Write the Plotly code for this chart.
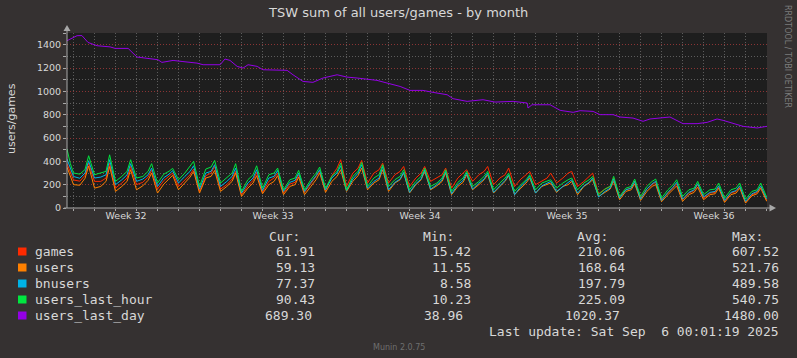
import plotly.graph_objects as go

# ---------------- data ----------------
# time axis in days from the first day line; samples per day at these fractions
day_offsets = [0.0, 0.30, 0.55, 0.72]
lead_t = [-0.31, -0.15]
tail_t = [33.0, 33.02]

games_lead = [380, 310]
games_daily = [
    (240, 230, 280, 385), (228, 228, 257, 385), (170, 214, 257, 356), (200, 220, 265, 322), (162, 235, 270, 300),
    (185, 242, 285, 334), (142, 277, 299, 356), (162, 200, 248, 314), (114, 190, 237, 305), (134, 228, 257, 299),
    (128, 205, 220, 285), (134, 208, 265, 314), (150, 277, 342, 414), (185, 299, 342, 408), (214, 299, 328, 385),
    (214, 285, 314, 356), (185, 257, 299, 356), (228, 257, 285, 342), (170, 257, 299, 328), (228, 285, 314, 356),
    (200, 257, 285, 342), (185, 248, 285, 314), (200, 228, 257, 299), (214, 257, 299, 314), (185, 228, 271, 299),
    (122, 162, 185, 257), (94, 156, 170, 228), (85, 162, 200, 220), (71, 128, 170, 208), (71, 128, 150, 200),
    (85, 128, 134, 185), (57, 128, 142, 185), (48, 114, 134, 185)]
games_tail = [65, 62]

users_lead = [350, 280]
users_daily = [
    (200, 195, 255, 360), (170, 185, 228, 356), (142, 185, 228, 328), (156, 190, 237, 300), (128, 205, 250, 280),
    (156, 214, 265, 314), (128, 257, 271, 322), (142, 185, 228, 300), (99, 170, 214, 277), (122, 200, 228, 277),
    (114, 185, 200, 265), (114, 185, 242, 300), (134, 228, 271, 328), (142, 228, 277, 342), (156, 214, 242, 328),
    (142, 214, 242, 300), (128, 200, 242, 314), (156, 190, 228, 300), (114, 185, 220, 285), (156, 200, 242, 285),
    (128, 185, 228, 277), (114, 170, 214, 257), (128, 185, 200, 214), (134, 185, 200, 228), (114, 185, 214, 242),
    (99, 134, 162, 228), (71, 142, 156, 208), (65, 142, 185, 200), (54, 114, 156, 190), (57, 114, 134, 179),
    (71, 114, 122, 170), (48, 114, 128, 170), (42, 105, 122, 170)]
users_tail = [60, 59]

bnusers_lead = [420, 340]
bnusers_daily = [
    (270, 255, 300, 405), (257, 265, 285, 414), (200, 242, 285, 380), (228, 248, 285, 342), (185, 260, 290, 320),
    (214, 271, 314, 362), (162, 300, 314, 371), (185, 228, 271, 342), (128, 214, 257, 328), (150, 257, 271, 322),
    (142, 220, 237, 299), (142, 220, 277, 328), (156, 257, 300, 362), (150, 248, 299, 371), (170, 228, 257, 356),
    (156, 220, 248, 305), (134, 208, 248, 328), (162, 200, 242, 314), (122, 200, 237, 299), (162, 214, 248, 299),
    (134, 190, 237, 285), (114, 185, 228, 271), (128, 190, 214, 228), (142, 185, 214, 242), (128, 190, 220, 257),
    (94, 142, 170, 248), (85, 156, 170, 228), (76, 162, 208, 228), (65, 134, 179, 220), (76, 134, 156, 208),
    (94, 134, 142, 190), (65, 134, 150, 190), (57, 122, 142, 190)]
bnusers_tail = [80, 77]

ulh_lead = [505, 380]
ulh_daily = [
    (300, 290, 330, 448), (285, 300, 314, 456), (228, 271, 314, 414), (257, 270, 314, 380), (214, 290, 315, 340),
    (242, 299, 356, 400), (185, 334, 351, 408), (214, 257, 299, 380), (142, 242, 285, 362), (170, 285, 299, 342),
    (156, 242, 257, 322), (156, 242, 299, 351), (170, 271, 314, 385), (156, 271, 314, 391), (185, 257, 285, 371),
    (185, 242, 271, 328), (156, 228, 271, 342), (185, 214, 257, 328), (142, 220, 257, 314), (185, 228, 271, 314),
    (156, 214, 257, 299), (142, 200, 242, 285), (156, 214, 228, 242), (170, 214, 242, 257), (156, 214, 242, 271),
    (114, 162, 185, 271), (99, 170, 185, 248), (99, 185, 228, 248), (85, 156, 200, 242), (99, 156, 170, 228),
    (114, 156, 162, 214), (85, 156, 170, 214), (76, 142, 156, 214)]
ulh_tail = [95, 90]

uld_t = [-0.31, 0.17, 0.40, 0.69, 1.12, 1.74, 1.98, 2.60, 3.02, 3.50, 4.02, 4.21, 4.74, 5.17, 5.88,
         6.17, 6.98, 7.21, 7.45, 7.79, 8.07, 8.31, 8.74, 9.02, 9.50, 10.17, 10.45, 10.93, 11.40, 11.88,
         12.55, 13.02, 13.50, 13.98, 14.45, 14.93, 15.55, 16.02, 16.64, 17.12, 17.79, 18.07, 18.74, 19.50,
         20.07, 20.93, 21.60, 21.64, 21.83, 22.69, 23.17, 23.79, 24.12, 24.74, 25.07, 25.69, 26.02, 26.64,
         27.12, 27.45, 28.40, 29.02, 29.69, 30.17, 30.64, 30.93, 31.40, 31.88, 32.55, 33.02]
uld_v = [1434, 1477, 1478, 1419, 1391, 1381, 1368, 1368, 1294, 1285, 1271, 1248, 1265, 1256, 1242,
         1228, 1228, 1277, 1265, 1214, 1199, 1228, 1214, 1185, 1185, 1180, 1142, 1085, 1077, 1114,
         1142, 1122, 1114, 1105, 1094, 1071, 1042, 1008, 1008, 991, 971, 937, 914, 928,
         908, 914, 900, 857, 885, 885, 837, 820, 834, 828, 800, 800, 780, 771,
         743, 763, 780, 723, 723, 734, 763, 751, 728, 700, 686, 700]

week_label_pos = [2.5, 9.5, 16.5, 23.5, 30.5]
week_labels = ["Week 32", "Week 33", "Week 34", "Week 35", "Week 36"]
week_bounds = [6, 13, 20, 27]
y_ticks = [0, 200, 400, 600, 800, 1000, 1200, 1400]

series_names = ["games", "users", "bnusers", "users_last_hour", "users_last_day"]
series_colors = ["#ff2a00", "#ff8000", "#00b3e6", "#00e640", "#9400e6"]
cur_vals = ["61.91", "59.13", "77.37", "90.43", "689.30"]
min_vals = ["15.42", "11.55", "8.58", "10.23", "38.96"]
avg_vals = ["210.06", "168.64", "197.79", "225.09", "1020.37"]
max_vals = ["607.52", "521.76", "489.58", "540.75", "1480.00"]
title_text = "TSW sum of all users/games - by month"
y_title = "users/games"
last_update = "Last update: Sat Sep\u00a0 6 00:01:19 2025"
footer = "Munin 2.0.75"
side_text = "RRDTOOL / TOBI OETIKER"

# ---------------- build ----------------
def build_t():
    t = list(lead_t)
    for d in range(len(games_daily)):
        for o in day_offsets:
            t.append(d + o)
    return t + list(tail_t)

def build_v(lead, daily, tail):
    v = list(lead)
    for row in daily:
        v.extend(row)
    return v + list(tail)

t_low = build_t()
low_series = [
    build_v(games_lead, games_daily, games_tail),
    build_v(users_lead, users_daily, users_tail),
    build_v(bnusers_lead, bnusers_daily, bnusers_tail),
    build_v(ulh_lead, ulh_daily, ulh_tail),
]

W, H = 797, 358
ML, MR, MT, MB = 67, 30, 33, 150
PW, PH = W - ML - MR, H - MT - MB

def px(x):
    return (x - ML) / PW

def py(y):
    return (H - MB - y) / PH

BG = "#353131"
CANVAS = "#1e1e1e"
TXT = "#d8d8d8"
AXIS = "#a8a8a8"
GRID_MINOR = "#5c5c5c"
GRID_MAJOR = "#8a3434"
MONO = "DejaVu Sans Mono"
SANS = "DejaVu Sans"

fig = go.Figure()
for name, col, vals in zip(series_names[:4], series_colors[:4], low_series):
    fig.add_trace(go.Scatter(x=t_low, y=vals, mode="lines", name=name,
                             line=dict(color=col, width=1), hoverinfo="skip"))
fig.add_trace(go.Scatter(x=uld_t, y=uld_v, mode="lines", name=series_names[4],
                         line=dict(color=series_colors[4], width=1), hoverinfo="skip"))

shapes = []
for wb in week_bounds:
    shapes.append(dict(type="line", xref="x", yref="paper", x0=wb, x1=wb, y0=0, y1=1,
                       line=dict(color=GRID_MAJOR, width=1, dash="1px,2px"), layer="below"))
# axis extensions and arrows
shapes.append(dict(type="line", xref="paper", yref="paper", x0=px(67), x1=px(67), y0=py(208), y1=py(30),
                   line=dict(color=AXIS, width=1)))
shapes.append(dict(type="path", xref="paper", yref="paper",
                   path=f"M {px(67)},{py(25)} L {px(63.5)},{py(31)} L {px(70.5)},{py(31)} Z",
                   fillcolor=AXIS, line=dict(color=AXIS, width=0)))
shapes.append(dict(type="line", xref="paper", yref="paper", x0=px(64), x1=px(770), y0=py(208), y1=py(208),
                   line=dict(color=AXIS, width=1)))
shapes.append(dict(type="path", xref="paper", yref="paper",
                   path=f"M {px(776)},{py(208)} L {px(769.5)},{py(204.5)} L {px(769.5)},{py(211.5)} Z",
                   fillcolor=AXIS, line=dict(color=AXIS, width=0)))

annotations = []
def ann(text, x, y, size, color=TXT, family=SANS, xanchor="left", angle=0):
    annotations.append(dict(text=text, x=px(x), y=py(y), xref="paper", yref="paper",
                            showarrow=False, xanchor=xanchor, yanchor="middle",
                            textangle=angle, borderpad=0,
                            font=dict(family=family, size=size, color=color)))

ann(title_text, 398, 13, 13, xanchor="center")
ann(y_title, 11, 119, 11, xanchor="center", angle=-90)
ann(side_text, 788, 56, 8, color="#7c7c7c", xanchor="center", angle=90)
ann(footer, 399, 347, 8, color="#6f6f6f", xanchor="center")

row_y = [251.5, 267.5, 283.5, 299.5, 315.5]
col_right = [[316, 472, 625.5, 779.5]] * 4 + [[313, 463.5, 621, 779.5]]
ann("Cur:", 267.5, 236, 13, family=MONO)
ann("Min:", 422, 236, 13, family=MONO)
ann("Avg:", 576, 236, 13, family=MONO)
ann("Max:", 730.5, 236, 13, family=MONO)
for i, name in enumerate(series_names):
    y = row_y[i]
    shapes.append(dict(type="rect", xref="paper", yref="paper", x0=px(18), x1=px(26.5),
                       y0=py(y + 4), y1=py(y - 4), fillcolor=series_colors[i], line=dict(width=0)))
    ann(name, 33.5, y, 13, family=MONO)
    for val, xr in zip([cur_vals[i], min_vals[i], avg_vals[i], max_vals[i]], col_right[i]):
        ann(val, xr, y, 13, family=MONO, xanchor="right")
ann(last_update, 779.5, 331, 13, family=MONO, xanchor="right")

fig.update_layout(
    width=W, height=H, margin=dict(l=ML, r=MR, t=MT, b=MB, pad=0, autoexpand=False),
    paper_bgcolor=BG, plot_bgcolor=CANVAS, showlegend=False, template="none",
    shapes=shapes, annotations=annotations,
    xaxis=dict(range=[lead_t[0], tail_t[-1]], tickmode="array", tickvals=week_label_pos, ticktext=week_labels,
               showgrid=False, zeroline=False, showline=False, ticks="", automargin=False,
               tickfont=dict(family=SANS, size=9.5, color=TXT),
               minor=dict(tickmode="linear", tick0=0, dtick=1, showgrid=True, gridcolor=GRID_MINOR,
                          griddash="1px,2px", gridwidth=1, ticks="outside", ticklen=2, tickcolor=AXIS)),
    yaxis=dict(range=[0, 1500], tickmode="array", tickvals=y_ticks, showgrid=True, gridcolor=GRID_MAJOR,
               griddash="1px,2px", gridwidth=1, zeroline=False, showline=False, ticks="outside", ticklen=3,
               tickcolor=AXIS, automargin=False, tickfont=dict(family=SANS, size=9.5, color=TXT),
               minor=dict(tickmode="linear", tick0=0, dtick=100, showgrid=True, gridcolor=GRID_MINOR,
                          griddash="1px,2px", gridwidth=1, ticks="outside", ticklen=3, tickcolor=AXIS)),
)

fig.write_html("out.html", config={"displayModeBar": False},
               post_script="document.body.style.margin='0';document.body.style.overflow='hidden';")
